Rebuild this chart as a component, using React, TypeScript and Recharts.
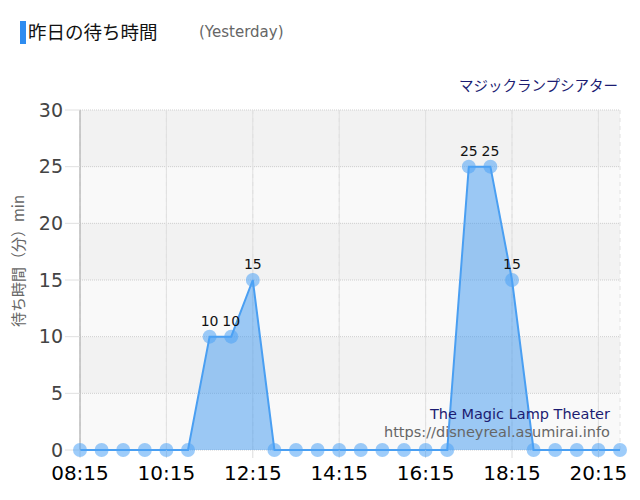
import React from "react"
import {
  AreaChart,
  Area,
  XAxis,
  YAxis,
  CartesianGrid,
  LabelList,
} from "recharts"

const times = [
  "08:15", "08:45", "09:15", "09:45", "10:15", "10:45", "11:15", "11:45",
  "12:15", "12:45", "13:15", "13:45", "14:15", "14:45", "15:15", "15:45",
  "16:15", "16:45", "17:15", "17:45", "18:15", "18:45", "19:15", "19:45",
  "20:15", "20:45",
]
const waits = [
  0, 0, 0, 0, 0, 0, 10, 10,
  15, 0, 0, 0, 0, 0, 0, 0,
  0, 0, 25, 25, 15, 0, 0, 0,
  0, 0,
]
const majorTimes = ["08:15", "10:15", "12:15", "14:15", "16:15", "18:15", "20:15"]
const yTicks = [0, 5, 10, 15, 20, 25, 30]

const data = times.map((time, i) => ({ time, wait: waits[i] }))

const FONT = "'DejaVu Sans', Verdana, sans-serif"
const JP = "'Noto Sans CJK JP', sans-serif"

function ValueLabel(props: any) {
  const { x, y, value } = props
  if (!value) return null
  return (
    <text x={x} y={y - 11} textAnchor="middle" fontSize={14} fill="#111" fontFamily={FONT}>
      {value}
    </text>
  )
}

// solid lines only at the labelled times (point scale: evenly spread over the plot)
function majorLines({ xAxis, offset }: any) {
  const scale = xAxis && xAxis.scale
  if (typeof scale === "function") return majorTimes.map((t) => scale(t))
  const step = offset.width / (times.length - 1)
  return majorTimes.map((t) => offset.left + times.indexOf(t) * step)
}

export default function App() {
  return (
    <div style={{ position: "absolute", left: 0, top: 0, width: 640, height: 500, background: "#fff" }}>
      <div style={{ position: "absolute", left: 20, top: 21, width: 6, height: 23, background: "#2e8cf0" }} />
      <div
        style={{
          position: "absolute", left: 28, top: 18, fontSize: 18.5,
          fontFamily: JP, color: "#111", lineHeight: "26px", whiteSpace: "nowrap",
        }}
      >
        昨日の待ち時間
      </div>
      <div
        style={{
          position: "absolute", left: 199, top: 22, fontSize: 15, fontFamily: FONT,
          color: "#666", lineHeight: "20px",
        }}
      >
        (Yesterday)
      </div>
      <div
        style={{
          position: "absolute", right: 22, top: 75, fontSize: 14.5, fontFamily: JP,
          color: "#1c1c72", lineHeight: "20px", whiteSpace: "nowrap",
        }}
      >
        マジックランプシアター
      </div>
      <div style={{ position: "absolute", left: 17, top: 261, width: 0, height: 0 }}>
        <div
          style={{
            position: "absolute", left: 0, top: 0, transform: "translate(-50%, -50%) rotate(-90deg)",
            whiteSpace: "nowrap", fontSize: 15, fontFamily: JP, color: "#666",
          }}
        >
          待ち時間（分）min
        </div>
      </div>

      <AreaChart
        width={640}
        height={500}
        data={data}
        margin={{ top: 110, right: 20, bottom: 20, left: 0 }}
      >
        <CartesianGrid
          vertical={false}
          horizontalFill={["#f2f2f2", "#f9f9f9"]}
          fillOpacity={1}
          stroke="#cfcfcf"
          strokeDasharray="1 1"
        />
        <CartesianGrid horizontal={false} stroke="#e2e2e2" strokeDasharray="4 4" />
        <CartesianGrid horizontal={false} stroke="#e0e0e0" verticalCoordinatesGenerator={majorLines} />
        <XAxis
          dataKey="time"
          interval={3}
          height={30}
          axisLine={false}
          tickLine={{ stroke: "#dcdcdc" }}
          tickSize={8}
          tickMargin={8}
          tick={{ fill: "#000", fontSize: 20, fontFamily: FONT }}
        />
        <YAxis
          domain={[0, 30]}
          ticks={yTicks}
          width={80}
          axisLine={{ stroke: "#aaa" }}
          tickLine={{ stroke: "#e0e0e0" }}
          tickSize={15}
          tickMargin={2}
          tick={{ fill: "#444", fontSize: 19, fontFamily: FONT }}
        />
        <Area
          type="linear"
          dataKey="wait"
          stroke="#4a9ff2"
          strokeWidth={2}
          fill="#3d97f0"
          fillOpacity={0.5}
          dot={{ r: 7, fill: "#4da3f5", fillOpacity: 0.55, stroke: "none" }}
          activeDot={false}
          isAnimationActive={false}
        >
          <LabelList dataKey="wait" content={ValueLabel} />
        </Area>
      </AreaChart>

      <div
        style={{
          position: "absolute", right: 30, top: 406, fontSize: 14.5, fontFamily: FONT,
          color: "#1c1c72", lineHeight: "17px", whiteSpace: "nowrap",
        }}
      >
        The Magic Lamp Theater
      </div>
      <div
        style={{
          position: "absolute", right: 30, top: 424, fontSize: 14.5, fontFamily: FONT,
          color: "#666", lineHeight: "17px", whiteSpace: "nowrap",
        }}
      >
        https://disneyreal.asumirai.info
      </div>
    </div>
  )
}
